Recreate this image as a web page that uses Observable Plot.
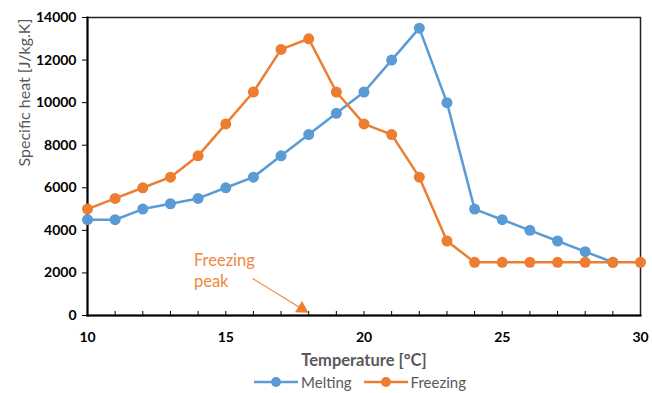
<!DOCTYPE html>
<html>
<head>
<meta charset="utf-8">
<script src="https://cdn.jsdelivr.net/npm/d3@7"></script>
<script src="https://cdn.jsdelivr.net/npm/@observablehq/plot@0.6"></script>
<style>
  html, body { margin: 0; padding: 0; background: #fff; }
  #chart { width: 652px; height: 393px; overflow: hidden; position: relative; font-family: Lato, "Open Sans", sans-serif; }
  #legend { position: absolute; left: 34px; top: 373px; width: 652px; display: flex; justify-content: center; gap: 12px; font-size: 15px; color: #595959; line-height: 18px; }
  .item { display: flex; align-items: center; gap: 3px; }
</style>
</head>
<body>
<div id="chart"></div>
<script>
const temperature = [10, 11, 12, 13, 14, 15, 16, 17, 18, 19, 20, 21, 22, 23, 24, 25, 26, 27, 28, 29, 30];
const melting = [4500, 4500, 5000, 5250, 5500, 6000, 6500, 7500, 8500, 9500, 10500, 12000, 13500, 10000, 5000, 4500, 4000, 3500, 3000, 2500, null];
const freezing = [5000, 5500, 6000, 6500, 7500, 9000, 10500, 12500, 13000, 10500, 9000, 8500, 6500, 3500, 2500, 2500, 2500, 2500, 2500, 2500, 2500];
const yTicks = [0, 2000, 4000, 6000, 8000, 10000, 12000, 14000];
const xTicks = [10, 15, 20, 25, 30];
const xMinorTicks = d3.range(10, 31, 1);
const seriesNames = ["Melting", "Freezing"];
const seriesColors = ["#5B9BD5", "#ED7D31"];
const annotationText = [{x: 13.85, y: 2150, label: "Freezing\npeak"}];
const annotationArrow = [{x1: 15.97, y1: 1740, x2: 17.75, y2: 320}];
const annotationHead = [{x: 17.75, y: 320}];

const rows = [];
temperature.forEach((t, i) => {
  if (melting[i] != null) rows.push({t, v: melting[i], s: "Melting"});
});
temperature.forEach((t, i) => {
  if (freezing[i] != null) rows.push({t, v: freezing[i], s: "Freezing"});
});

const font = "Lato, 'Open Sans', sans-serif";
const plot = Plot.plot({
  width: 652,
  height: 372,
  marginLeft: 87,
  marginRight: 12,
  marginTop: 17,
  marginBottom: 57,
  style: {fontFamily: font, background: "#fff"},
  x: {domain: [10, 30]},
  y: {domain: [0, 14000]},
  color: {domain: seriesNames, range: seriesColors},
  marks: [
    Plot.axisY({ticks: yTicks, tickSize: 5, tickPadding: 6, tickFormat: d3.format("d"), fontSize: 14, fontWeight: "bold", color: "#000", label: null}),
    Plot.axisX({ticks: xMinorTicks, tickSize: -4, tickFormat: () => "", label: null, color: "#000"}),
    Plot.axisX({ticks: xTicks, tickSize: 0, tickPadding: 17, fontSize: 14, fontWeight: "bold", color: "#000", label: null}),
    Plot.frame({stroke: "#222", strokeWidth: 1.5}),
    Plot.frame({anchor: "left", stroke: "#000", strokeWidth: 2}),
    Plot.frame({anchor: "bottom", stroke: "#000", strokeWidth: 2}),
    Plot.line(rows, {x: "t", y: "v", stroke: "s", z: "s", strokeWidth: 2.5}),
    Plot.dot(rows, {x: "t", y: "v", fill: "s", r: 5.5, stroke: null}),
    Plot.text(annotationText, {x: "x", y: "y", text: "label", textAnchor: "start", fill: "#F0883E", fontSize: 16.5, lineHeight: 1.3}),
    Plot.link(annotationArrow, {x1: "x1", y1: "y1", x2: "x2", y2: "y2", stroke: "#F0883E", strokeWidth: 1.2}),
    Plot.dot(annotationHead, {x: "x", y: "y", symbol: "triangle", r: 5, fill: "#ED7D31", rotate: 122}),
    Plot.text(["Temperature [°C]"], {frameAnchor: "bottom", dy: 50, fontSize: 16.5, fontWeight: "bold", fill: "#595959"}),
    Plot.text(["Specific heat [J/kg.K]"], {frameAnchor: "left", dx: -63, rotate: -90, fontSize: 16, fill: "#595959"})
  ]
});

const chart = document.getElementById("chart");
chart.appendChild(plot);

const legend = document.createElement("div");
legend.id = "legend";
seriesNames.forEach((name, i) => {
  const item = document.createElement("div");
  item.className = "item";
  item.innerHTML = `<svg width="44" height="14"><line x1="0" y1="7" x2="44" y2="7" stroke="${seriesColors[i]}" stroke-width="2.5"/><circle cx="22" cy="7" r="5" fill="${seriesColors[i]}"/></svg><span>${name}</span>`;
  legend.appendChild(item);
});
chart.appendChild(legend);
</script>
</body>
</html>
